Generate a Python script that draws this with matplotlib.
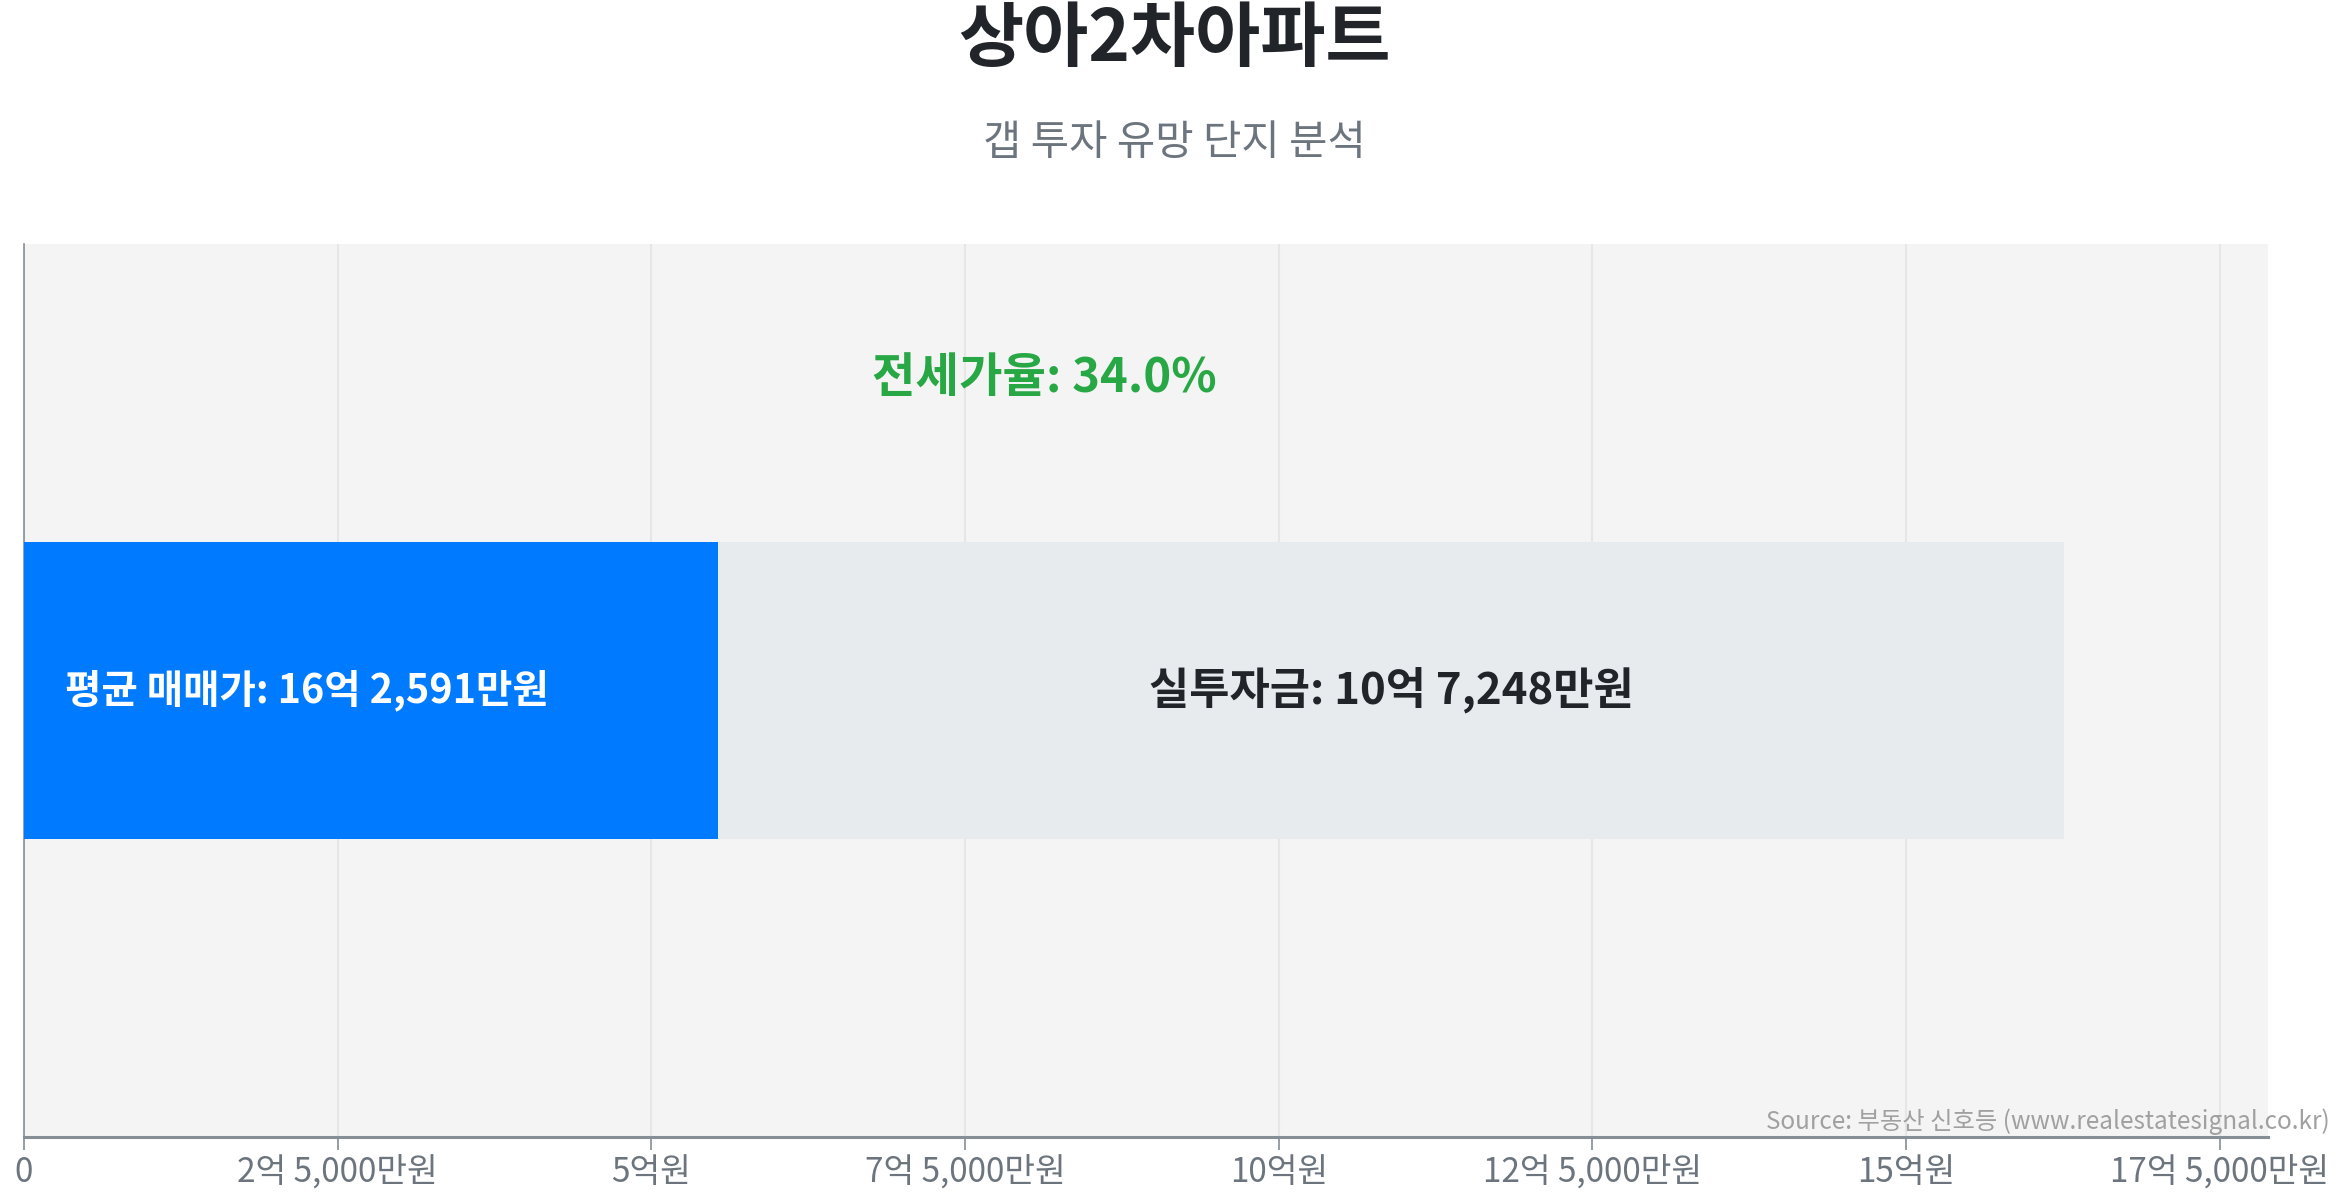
import matplotlib
matplotlib.use("Agg")
import matplotlib.pyplot as plt

plt.rcParams['font.family'] = ['Noto Sans CJK KR', 'DejaVu Sans']

# data (unit: 억원)
title = "상아2차아파트"
subtitle = "갭 투자 유망 단지 분석"
avg_price = 16.2591        # 평균 매매가
invest = 10.7248           # 실투자금
jeonse = avg_price - invest
jeonse_ratio = 34.0
price_label = "평균 매매가: 16억 2,591만원"
invest_label = "실투자금: 10억 7,248만원"
tick_values = [0, 2.5, 5, 7.5, 10, 12.5, 15, 17.5]
tick_labels = ["0", "2억 5,000만원", "5억원", "7억 5,000만원", "10억원",
               "12억 5,000만원", "15억원", "17억 5,000만원"]
source = "Source: 부동산 신호등 (www.realestatesignal.co.kr)"

W, H = 2349, 1200
fig = plt.figure(figsize=(W / 100, H / 100), dpi=100)
ax = fig.add_axes([24 / W, (H - 1137) / H, 2244 / W, 893 / H])
ax.set_facecolor("#f4f4f4")

# stacked bar: 전세 part (blue) + 실투자금 (light gray)
ax.barh(0, jeonse, height=1.0, color="#007bff", zorder=3)
ax.barh(0, invest, left=jeonse, height=1.0, color="#e7ebee", zorder=3)

ax.text(0.33, 0, price_label, color="white", fontsize=28.5, fontweight="bold",
        va="center", ha="left", zorder=4)
ax.text(jeonse + invest / 2, 0, invest_label, color="#212529", fontsize=31.5,
        fontweight="bold", va="center", ha="center", zorder=4)
ax.text(avg_price / 2, 1.05, f"전세가율: {jeonse_ratio:.1f}%", color="#28a745",
        fontsize=34, fontweight="bold", va="center", ha="center", zorder=4)

ax.set_xlim(0, avg_price * 1.1)
ax.set_ylim(-1.5, 1.5)
ax.set_yticks([])
ax.set_xticks(tick_values)
ax.set_xticklabels(tick_labels, fontsize=24, color="#6c757d")
ax.tick_params(axis="x", length=9, width=1.2, color="#868e96", pad=4)
ax.grid(axis="x", color="#e6e6e6", linewidth=1.5, zorder=0)

for s in ["top", "right"]:
    ax.spines[s].set_visible(False)
ax.spines["bottom"].set_color("#868e96")
ax.spines["bottom"].set_linewidth(2.2)
ax.spines["left"].set_color("#868e96")
ax.spines["left"].set_linewidth(1.2)

fig.text(0.5, 1 - 40 / H, title, ha="center", va="center", fontsize=51,
         fontweight="bold", color="#212529")
fig.text(0.5, 1 - 143 / H, subtitle, ha="center", va="center", fontsize=30,
         color="#6c757d")
fig.text(2330 / W, 1 - 1122 / H, source, ha="right", va="center", fontsize=17.5,
         color="#a0a0a0")

fig.savefig("out.png", dpi=100)
